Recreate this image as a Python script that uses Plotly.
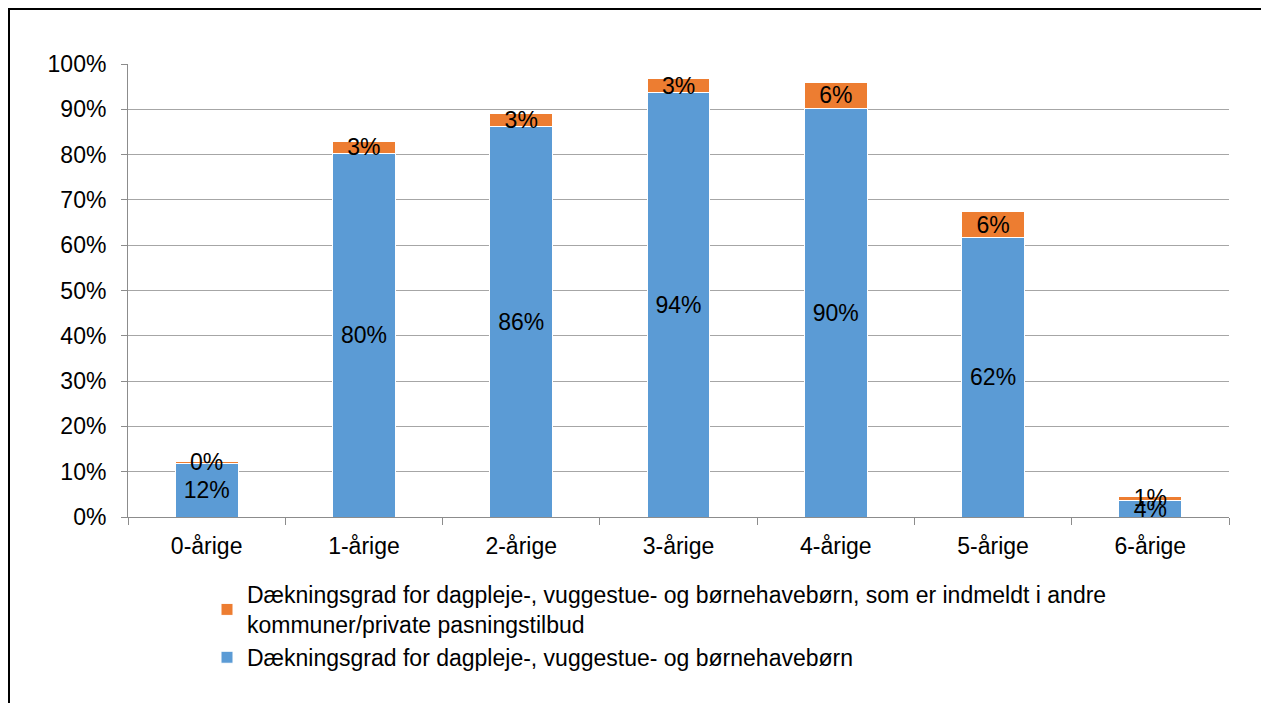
import plotly.graph_objects as go

categories = ["0-årige", "1-årige", "2-årige", "3-årige", "4-årige", "5-årige", "6-årige"]
blue_values = [11.9, 80.3, 86.2, 93.8, 90.1, 61.6, 3.7]
orange_values = [0.3, 2.7, 2.9, 2.9, 5.9, 5.9, 0.8]
blue_name = "Dækningsgrad for dagpleje-, vuggestue- og børnehavebørn"
orange_name = ("Dækningsgrad for dagpleje-, vuggestue- og børnehavebørn, som er indmeldt i andre<br>"
               "kommuner/private pasningstilbud")
y_tickvals = [0, 10, 20, 30, 40, 50, 60, 70, 80, 90, 100]
y_ticktext = ["0%", "10%", "20%", "30%", "40%", "50%", "60%", "70%", "80%", "90%", "100%"]

FONT = "Liberation Sans, Arial, sans-serif"
FS = 23

fig = go.Figure()
fig.add_trace(go.Bar(
    x=categories, y=blue_values, name=blue_name,
    marker=dict(color="#5B9BD5", line=dict(color="white", width=1)),
    texttemplate="%{y:.0f}%", textposition="inside", textangle=0,
    insidetextanchor="middle", constraintext="none",
    textfont=dict(color="black", size=FS, family=FONT),
    hoverinfo="skip",
))
fig.add_trace(go.Bar(
    x=categories, y=orange_values, name=orange_name,
    marker=dict(color="#ED7D31", line=dict(color="white", width=1)),
    texttemplate="%{y:.0f}%", textposition="inside", textangle=0,
    insidetextanchor="middle", constraintext="none",
    textfont=dict(color="black", size=FS, family=FONT),
    hoverinfo="skip",
))

# page body has an 8px margin; figure pixels = screen pixels - 8
W, H = 1261, 695
L, R, T, B = 120, 40, 56, 186
pw, ph = W - L - R, H - T - B

def px_x(p):
    return (p - L) / pw

def px_y(p):
    return (H - B - p) / ph

fig.update_layout(
    width=W, height=H,
    margin=dict(l=L, r=R, t=T, b=B),
    barmode="stack", bargap=0.6,
    plot_bgcolor="white", paper_bgcolor="white",
    font=dict(family=FONT, size=FS, color="black"),
    showlegend=True,
    legend=dict(
        traceorder="reversed", orientation="v",
        x=px_x(199), y=px_y(565), xanchor="left", yanchor="top",
        font=dict(size=FS, family=FONT, color="black"),
        itemwidth=30, tracegroupgap=0,
        bgcolor="rgba(0,0,0,0)",
    ),
    xaxis=dict(
        type="category", showgrid=False,
        showline=True, linecolor="#8c8c8c", linewidth=1,
        ticks="outside", tickson="boundaries", ticklen=7, tickcolor="#8c8c8c",
        ticklabelstandoff=8,
        tickfont=dict(size=FS, family=FONT, color="black"),
    ),
    yaxis=dict(
        range=[0, 100], tickvals=y_tickvals, ticktext=y_ticktext,
        showgrid=True, gridcolor="#a6a6a6", gridwidth=1,
        showline=True, linecolor="#8c8c8c", linewidth=1,
        ticks="outside", ticklen=6, tickcolor="#8c8c8c",
        ticklabelstandoff=10, zeroline=False,
        tickfont=dict(size=FS, family=FONT, color="black"),
    ),
    shapes=[dict(
        type="rect", xref="paper", yref="paper",
        x0=px_x(0.5), x1=px_x(W + 10), y0=px_y(H + 10), y1=px_y(0.5),
        line=dict(color="black", width=3), fillcolor="rgba(0,0,0,0)",
        layer="above",
    )],
)

fig.write_html("out.html")
